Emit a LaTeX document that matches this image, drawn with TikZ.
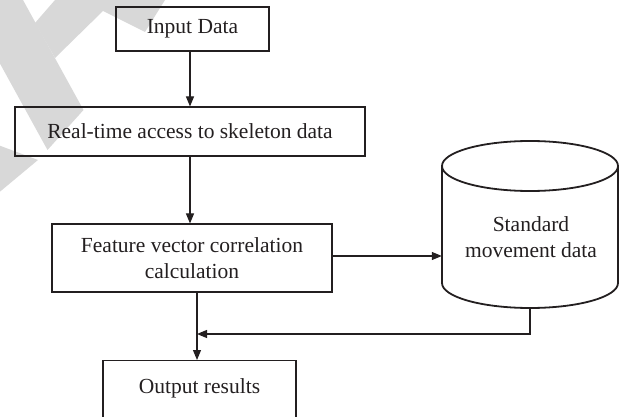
\documentclass[tikz,border=0pt]{standalone}
\usepackage{fontspec}
\setmainfont{Liberation Serif}
\usetikzlibrary{arrows.meta,calc}
\definecolor{ink}{HTML}{231F20}
\definecolor{wm}{HTML}{D8D8D8}
\begin{document}
\begin{tikzpicture}[x=1pt,y=-1pt,
  box/.style={draw=ink,line width=1.1pt,inner sep=0pt,text=ink,align=center,
    font=\fontsize{21.5}{25.5}\selectfont},
  txt/.style={text=ink,align=center,inner sep=0pt,font=\fontsize{21.5}{25.5}\selectfont},
  arr/.style={draw=ink,line width=1.1pt,-{Triangle[length=10pt,width=8pt]}},
  cylline/.style={draw=ink,line width=1.8pt},
  wmark/.style={fill=wm,draw=none}]
\useasboundingbox (0,0) rectangle (619,417);
\clip (0,0) rectangle (619,417);
% watermark
\fill[wmark] (-35,0) -- (23,0) -- (83.5,110) -- (47.5,150) -- cycle;
\fill[wmark] (35,23) -- (55,0) -- (165,0) -- (145,32) -- (103,11) -- (55,58) -- cycle;
\fill[wmark] (-10,142) -- (38,160) -- (-10,200) -- cycle;
% boxes
\node[box,minimum width=153pt,minimum height=44pt] (inp) at (192.5,29) {Input Data};
\node[box,minimum width=350pt,minimum height=49pt] (real) at (190,131.5) {Real-time access to skeleton data};
\node[box,minimum width=280pt,minimum height=68pt] (feat) at (192,258) {Feature vector correlation\\calculation};
\node[box,anchor=north,minimum width=193pt,minimum height=70pt] (out) at (199.5,360) {};
\node[txt] (outtxt) at (199.5,388) {Output results};
% cylinder
\node[inner sep=0pt,minimum width=176pt,minimum height=167pt] (cyl) at (530,224.5) {};
\draw[cylline] (530,166) ellipse [x radius=88, y radius=25];
\draw[cylline] (442,166) -- (442,283) arc[start angle=180,end angle=0,x radius=88,y radius=25] -- (618,166);
\node[txt] (cyltxt) at (531,237) {Standard\\movement data};
% connectors
\coordinate (j) at (197,334);
\draw[arr] (inp.south -| real.north) -- (real.north);
\draw[arr] (real.south) -- (real.south |- feat.north);
\draw[arr] (feat.south -| j) -- (out.north -| j);
\draw[arr] ($(feat.east)+(0,-2)$) -- ($(cyl.west |- feat.east)+(0,-2)$);
\draw[arr] (cyl.south) |- (j);
\end{tikzpicture}
\end{document}
